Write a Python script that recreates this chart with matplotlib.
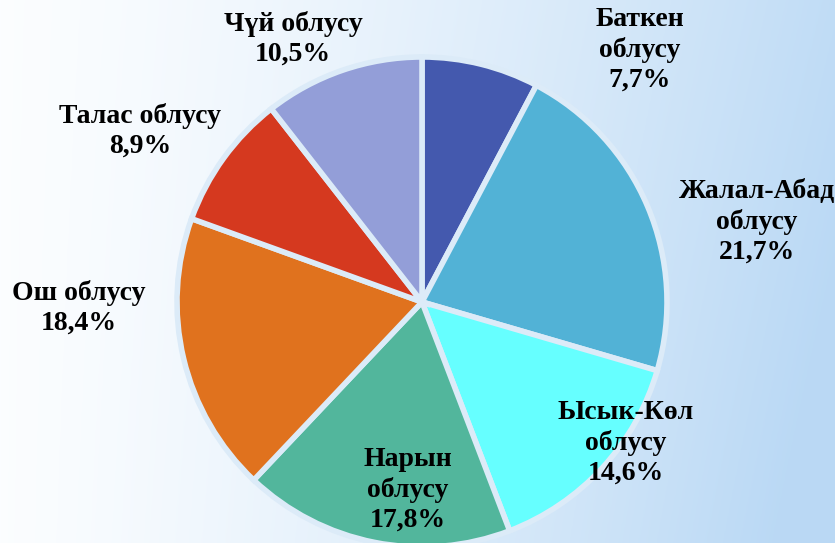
import matplotlib
matplotlib.use("Agg")
import matplotlib.pyplot as plt
import numpy as np

regions = ["Баткен облусу", "Жалал-Абад облусу", "Ысык-Көл облусу", "Нарын облусу",
           "Ош облусу", "Талас облусу", "Чүй облусу"]
shares = [7.7, 21.7, 14.6, 17.8, 18.4, 8.9, 10.5]
colors = ["#4459AE", "#52B2D6", "#66FFFF", "#52B69C", "#E0721E", "#D5391F", "#939ED8"]
split_name = [True, True, True, True, False, False, False]
label_pos = [(640, 493), (757, 321), (626, 100), (408, 53), (79, 235), (140, 412), (293, 504)]

W, H = 835, 543
fig = plt.figure(figsize=(W / 100, H / 100), dpi=100)

# background gradient
bg = fig.add_axes([0, 0, 1, 1])
xx, yy = np.meshgrid(np.linspace(0, 1, 300), np.linspace(0, 1, 200))
t = np.clip(0.9 * xx ** 1.4 + 0.2 * yy * xx, 0, 1)
c0 = np.array([0.985, 0.993, 1.0])
c1 = np.array([0.73, 0.85, 0.96])
img = c0[None, None, :] * (1 - t[..., None]) + c1[None, None, :] * t[..., None]
bg.imshow(img, extent=[0, 1, 0, 1], aspect="auto", origin="upper")
bg.axis("off")

ax = fig.add_axes([0, 0, 1, 1])
ax.set_facecolor("none")
ax.pie(shares, colors=colors, startangle=90, counterclock=False,
       center=(422, 241), radius=245, frame=True,
       wedgeprops=dict(edgecolor="#DCEBF8", linewidth=4))
ax.set_xlim(0, W)
ax.set_ylim(0, H)
ax.set_aspect("equal")
ax.axis("off")

for name, v, split, (x, y) in zip(regions, shares, split_name, label_pos):
    pct = f"{v:.1f}".replace(".", ",") + "%"
    nm = name.replace(" ", "\n") if split else name
    ax.text(x, y, nm + "\n" + pct, ha="center", va="center", fontsize=20,
            fontweight="bold", family="Liberation Serif", linespacing=1.25,
            color="black")

fig.savefig("out.png", dpi=100)
